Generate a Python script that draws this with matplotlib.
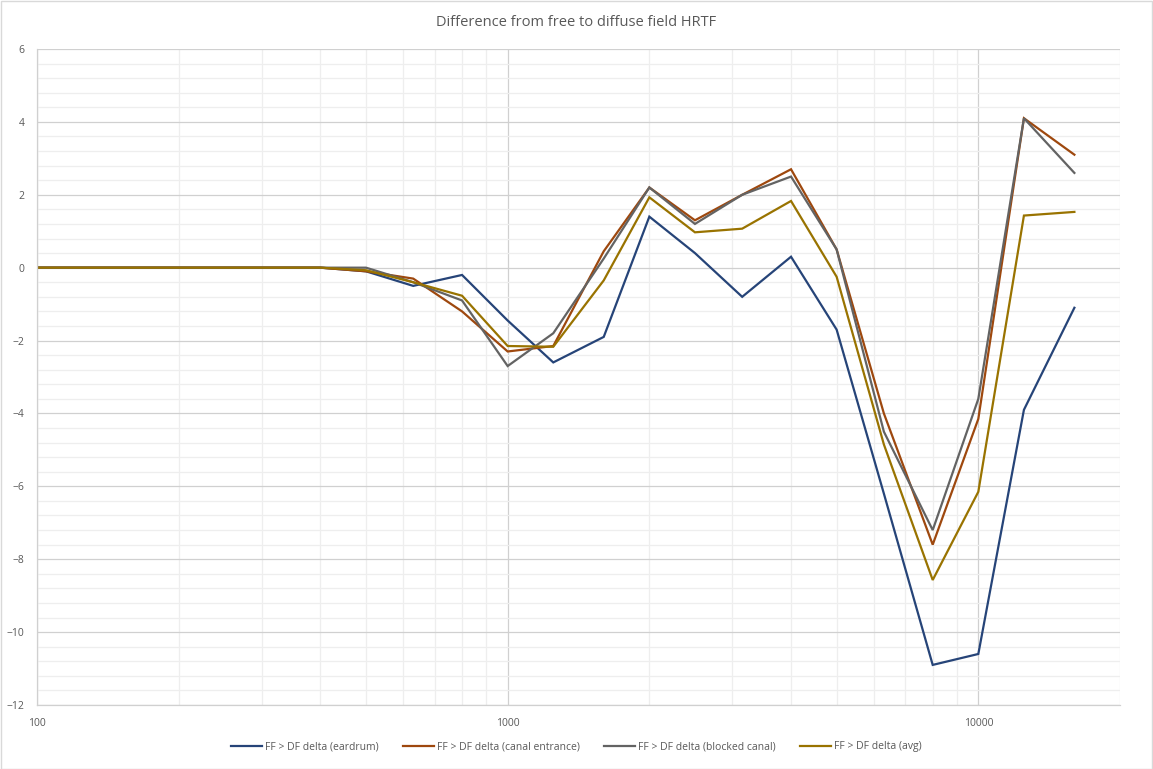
import matplotlib
matplotlib.use("Agg")
import matplotlib.pyplot as plt
from matplotlib.ticker import FixedLocator, NullFormatter, MultipleLocator, LogLocator
from matplotlib.patches import Rectangle

freqs = [100, 125, 160, 200, 250, 315, 400, 500, 630, 800, 1000, 1250, 1600,
         2000, 2500, 3150, 4000, 5000, 6300, 8000, 10000, 12500, 16000]

eardrum = [0, 0, 0, 0, 0, 0, 0, -0.1, -0.5, -0.2, -1.45, -2.6, -1.9,
           1.4, 0.4, -0.8, 0.3, -1.7, -6.2, -10.9, -10.6, -3.9, -1.1]
canal_entrance = [0, 0, 0, 0, 0, 0, 0, -0.1, -0.3, -1.2, -2.3, -2.15, 0.45,
                  2.2, 1.3, 2.0, 2.7, 0.5, -4.0, -7.6, -4.15, 4.1, 3.1]
blocked_canal = [0, 0, 0, 0, 0, 0, 0, 0.0, -0.4, -0.9, -2.7, -1.8, 0.25,
                 2.2, 1.2, 2.0, 2.5, 0.5, -4.5, -7.2, -3.6, 4.1, 2.6]
avg = [0, 0, 0, 0, 0, 0, 0, -0.07, -0.4, -0.77, -2.15, -2.17, -0.35,
       1.93, 0.97, 1.07, 1.83, -0.25, -4.85, -8.57, -6.15, 1.43, 1.53]

series = [
    ("FF > DF delta (eardrum)", eardrum, "#264478"),
    ("FF > DF delta (canal entrance)", canal_entrance, "#9E480E"),
    ("FF > DF delta (blocked canal)", blocked_canal, "#636363"),
    ("FF > DF delta (avg)", avg, "#997300"),
]

title = "Difference from free to diffuse field HRTF"
x_ticks = [100, 1000, 10000]
x_tick_labels = ["100", "1000", "10000"]

plt.rcParams['font.family'] = ['Open Sans', 'DejaVu Sans']

W, H = 1153, 769
fig = plt.figure(figsize=(W / 100, H / 100), dpi=100)
fig.patch.set_facecolor("white")
# outer chart border
fig.patches.append(Rectangle((0.5 / W, 0.5 / H), 1 - 1.5 / W, 1 - 1.5 / H,
                             transform=fig.transFigure, fill=False,
                             edgecolor="#d9d9d9", linewidth=1.0))

left, right, top, bottom = 37, 1120, 49, 705
ax = fig.add_axes([left / W, 1 - bottom / H, (right - left) / W, (bottom - top) / H])

for name, vals, col in series:
    ax.plot(freqs, vals, color=col, linewidth=1.6, label=name, solid_joinstyle="miter")

ax.set_xscale("log")
ax.set_xlim(100, 20000)
ax.set_ylim(-12, 6)

ax.xaxis.set_major_locator(FixedLocator(x_ticks))
ax.set_xticklabels(x_tick_labels)
ax.xaxis.set_minor_locator(LogLocator(base=10, subs=range(2, 10)))
ax.xaxis.set_minor_formatter(NullFormatter())
ax.yaxis.set_major_locator(MultipleLocator(2))
ax.yaxis.set_minor_locator(MultipleLocator(0.4))

ax.grid(which="major", color="#d0d0d0", linewidth=0.9)
ax.grid(which="minor", color="#eeeeee", linewidth=0.9)
ax.set_axisbelow(True)

for s in ["top", "right"]:
    ax.spines[s].set_visible(False)
for s in ["left", "bottom"]:
    ax.spines[s].set_color("#d0d0d0")
    ax.spines[s].set_linewidth(0.9)

ax.tick_params(which="both", length=0, colors="#595959", labelsize=7.5)
ax.tick_params(axis="x", pad=9)
ax.tick_params(axis="y", pad=9)

fig.text(0.5, 1 - 22 / H, title, ha="center", va="center", fontsize=10.5, color="#595959")

handles, labels = ax.get_legend_handles_labels()
fig.legend(handles, labels, loc="center", bbox_to_anchor=(0.5, 1 - 747 / H),
           ncol=4, frameon=False, fontsize=7.5, handlelength=3.0,
           columnspacing=2.3, handletextpad=0.3, labelcolor="#595959")

fig.savefig("out.png", dpi=100, facecolor="white")
